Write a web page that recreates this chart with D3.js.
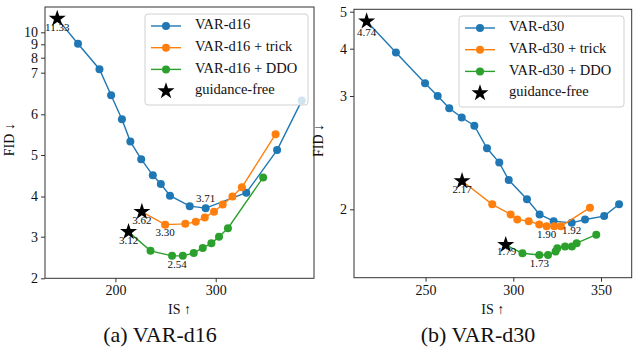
<!DOCTYPE html>
<html>
<head>
<meta charset="utf-8">
<script src="https://cdn.jsdelivr.net/npm/d3@7"></script>
<style>
    body { margin: 0; background: #fff; }
    svg text { font-family: "Liberation Serif", "Times New Roman", serif; fill: #111; }
</style>
</head>
<body>
<div id="chart"></div>
<script>
/* ---------------- data ---------------- */

// (a) VAR-d16 — first point of each series is the guidance-free star
const d16BaseIS   = [142.0, 162.7, 184.1, 195.7, 206.5, 214.9, 225.7, 237.3, 245.3, 254.4, 274.1, 290.0, 330.5, 361.2, 385.8];
const d16BaseFID  = [11.33, 9.05, 7.23, 6.46, 5.88, 5.33, 4.90, 4.51, 4.30, 4.02, 3.76, 3.71, 4.09, 5.12, 6.33];
const d16TrickIS  = [226.4, 249.6, 269.7, 280.1, 289.1, 298.3, 307.0, 316.7, 326.1, 359.7];
const d16TrickFID = [3.62, 3.30, 3.32, 3.37, 3.48, 3.62, 3.80, 4.00, 4.22, 5.51];
const d16DdoIS    = [213.1, 235.0, 256.5, 267.2, 278.1, 287.1, 295.7, 303.3, 312.2, 347.3];
const d16DdoFID   = [3.12, 2.66, 2.54, 2.54, 2.61, 2.73, 2.84, 3.00, 3.21, 4.46];

// (b) VAR-d30
const d30BaseIS   = [216.4, 233.1, 249.7, 256.9, 263.5, 270.6, 277.8, 285.0, 292.0, 297.4, 307.8, 315.0, 323.0, 333.3, 340.9, 351.8, 360.3];
const d30BaseFID  = [4.74, 3.92, 3.27, 3.00, 2.88, 2.79, 2.71, 2.49, 2.35, 2.18, 2.06, 1.97, 1.93, 1.92, 1.94, 1.96, 2.03];
const d30TrickIS  = [270.8, 288.0, 298.5, 302.3, 308.8, 314.8, 319.0, 323.3, 327.1, 343.7];
const d30TrickFID = [2.17, 2.03, 1.97, 1.94, 1.93, 1.91, 1.90, 1.90, 1.90, 2.01];
const d30DdoIS    = [295.7, 305.2, 314.8, 319.8, 324.1, 325.1, 329.5, 333.4, 336.1, 347.3];
const d30DdoFID   = [1.79, 1.74, 1.73, 1.73, 1.75, 1.77, 1.78, 1.78, 1.80, 1.85];

// annotated values: text, series, point index
const d16Notes = [["11.33", 0, 0], ["3.62", 1, 0], ["3.12", 2, 0], ["3.30", 1, 1], ["2.54", 2, 2], ["3.71", 0, 11]];
const d30Notes = [["4.74", 0, 0], ["2.17", 1, 0], ["1.79", 2, 0], ["1.90", 1, 6], ["1.92", 0, 13], ["1.73", 2, 2]];

const d16Legend = ["VAR-d16", "VAR-d16 + trick", "VAR-d16 + DDO", "guidance-free"];
const d30Legend = ["VAR-d30", "VAR-d30 + trick", "VAR-d30 + DDO", "guidance-free"];

const d16YTicks = [2, 3, 4, 5, 6, 7, 8, 9, 10];
const d30YTicks = [2, 3, 4, 5];
const d16XTicks = [200, 300];
const d30XTicks = [250, 300, 350];

const colors = ["#1f77b4", "#ff7f0e", "#2ca02c"];

/* ---------------- svg ---------------- */

const W = 640, H = 354;
const svg = d3.select("#chart").append("svg")
    .attr("width", W)
    .attr("height", H);

function zip(a, b) { return a.map((v, i) => ({ is: v, fid: b[i] })); }

/* ---------------- one panel ---------------- */

function drawPanel(p) {
    // the fid axis is a custom warped scale -> polylinear
    const x = d3.scaleLinear().domain(p.xDomain).range([p.left, p.right]);
    const y = d3.scaleLinear().domain(p.yKnots).range(p.yPix);

    const g = svg.append("g");

    // frame
    g.append("rect")
        .attr("x", p.left).attr("y", p.top)
        .attr("width", p.right - p.left).attr("height", p.bottom - p.top)
        .attr("fill", "none").attr("stroke", "#333").attr("stroke-width", 1);

    // axes
    const ax = g.append("g")
        .attr("transform", `translate(0,${p.bottom})`)
        .call(d3.axisBottom(x).tickValues(p.xTicks).tickSize(4).tickPadding(3));
    const ay = g.append("g")
        .attr("transform", `translate(${p.left},0)`)
        .call(d3.axisLeft(y).tickValues(p.yTicks).tickFormat(d3.format("d")).tickSize(4).tickPadding(3));
    [ax, ay].forEach(a => {
        a.attr("font-family", null);
        a.select(".domain").remove();
        a.selectAll("line").attr("stroke", "#333");
        a.selectAll("text").style("font-size", "14px").attr("fill", "#111");
    });

    // axis titles
    g.append("text")
        .attr("x", (p.left + p.right) / 2).attr("y", 314)
        .attr("text-anchor", "middle").style("font-size", "14px")
        .text("IS ↑");
    g.append("text")
        .attr("transform", `translate(${p.left - 31},${(p.top + p.bottom) / 2 - 3}) rotate(-90)`)
        .attr("text-anchor", "middle").style("font-size", "14px")
        .text("FID ↓");

    // caption
    g.append("text")
        .attr("x", p.captionX).attr("y", 342)
        .attr("text-anchor", "middle").style("font-size", "22px")
        .text(p.caption);

    const line = d3.line().x(d => x(d.is)).y(d => y(d.fid));

    p.series.forEach((s, i) => {
        g.append("path")
            .datum(s)
            .attr("d", line)
            .attr("fill", "none")
            .attr("stroke", colors[i])
            .attr("stroke-width", 1.4);

        g.append("g")
            .selectAll("circle")
            .data(s.slice(1))
            .enter()
            .append("circle")
            .attr("cx", d => x(d.is))
            .attr("cy", d => y(d.fid))
            .attr("r", 4)
            .attr("fill", colors[i]);
    });

    // guidance-free stars
    const star = d3.symbol().type(d3.symbolStar).size(90);
    g.append("g")
        .selectAll("path")
        .data(p.series.map(s => s[0]))
        .enter()
        .append("path")
        .attr("d", star)
        .attr("transform", d => `translate(${x(d.is)},${y(d.fid)})`)
        .attr("fill", "#000");

    // value notes
    p.notes.forEach((n, k) => {
        const pt = p.series[n[1]][n[2]];
        const off = p.noteOffsets[k];
        g.append("text")
            .attr("x", x(pt.is) + off[0])
            .attr("y", y(pt.fid) + off[1])
            .attr("text-anchor", "middle")
            .attr("dominant-baseline", "middle")
            .style("font-size", "11px")
            .attr("fill", "#222")
            .text(n[0]);
    });

    /* legend */
    const lg = g.append("g").attr("transform", `translate(${p.legendX},${p.legendY})`);
    lg.append("rect")
        .attr("width", p.legendW).attr("height", 91)
        .attr("rx", 3)
        .attr("fill", "rgba(255,255,255,0.8)")
        .attr("stroke", "#d0d0d0");

    p.legend.forEach((label, i) => {
        const ry = 12 + i * 21.7;
        if (i < 3) {
            lg.append("line")
                .attr("x1", 6).attr("x2", 36).attr("y1", ry).attr("y2", ry)
                .attr("stroke", colors[i]).attr("stroke-width", 1.4);
            lg.append("circle").attr("cx", 21).attr("cy", ry).attr("r", 4).attr("fill", colors[i]);
        } else {
            lg.append("path").attr("d", star).attr("transform", `translate(21,${ry})`).attr("fill", "#000");
        }
        lg.append("text")
            .attr("x", 50).attr("y", ry)
            .attr("dominant-baseline", "middle")
            .style("font-size", "14.5px")
            .text(label);
    });
}

drawPanel({
    left: 45, right: 314, top: 7, bottom: 278.3,
    xDomain: [129.8, 398],
    yKnots: [2, 3, 4, 5, 6, 7, 8, 9, 10, 12],
    yPix: [278.3, 236.7, 196.5, 155, 114.3, 72.7, 57.7, 44.3, 32.3, 11.7],
    xTicks: d16XTicks, yTicks: d16YTicks,
    series: [zip(d16BaseIS, d16BaseFID), zip(d16TrickIS, d16TrickFID), zip(d16DdoIS, d16DdoFID)],
    notes: d16Notes,
    noteOffsets: [[0, 10], [0, 9.5], [0, 9.5], [0, 9], [5, 10], [0, -9]],
    legend: d16Legend, legendX: 145, legendY: 14, legendW: 163,
    caption: "(a) VAR-d16", captionX: 160
});

drawPanel({
    left: 354, right: 631.7, top: 9.3, bottom: 277.7,
    xDomain: [209.2, 367.5],
    yKnots: [1.585, 1.73, 2, 2.17, 3, 4, 5, 5.07],
    yPix: [277.7, 255, 209.3, 181, 96, 48.7, 11.7, 9.3],
    xTicks: d30XTicks, yTicks: d30YTicks,
    series: [zip(d30BaseIS, d30BaseFID), zip(d30TrickIS, d30TrickFID), zip(d30DdoIS, d30DdoFID)],
    notes: d30Notes,
    noteOffsets: [[0, 12], [0, 9], [1, 8], [0, 9], [0, 9], [0, 9]],
    legend: d30Legend, legendX: 459, legendY: 16, legendW: 165,
    caption: "(b) VAR-d30", captionX: 478
});
</script>
</body>
</html>
